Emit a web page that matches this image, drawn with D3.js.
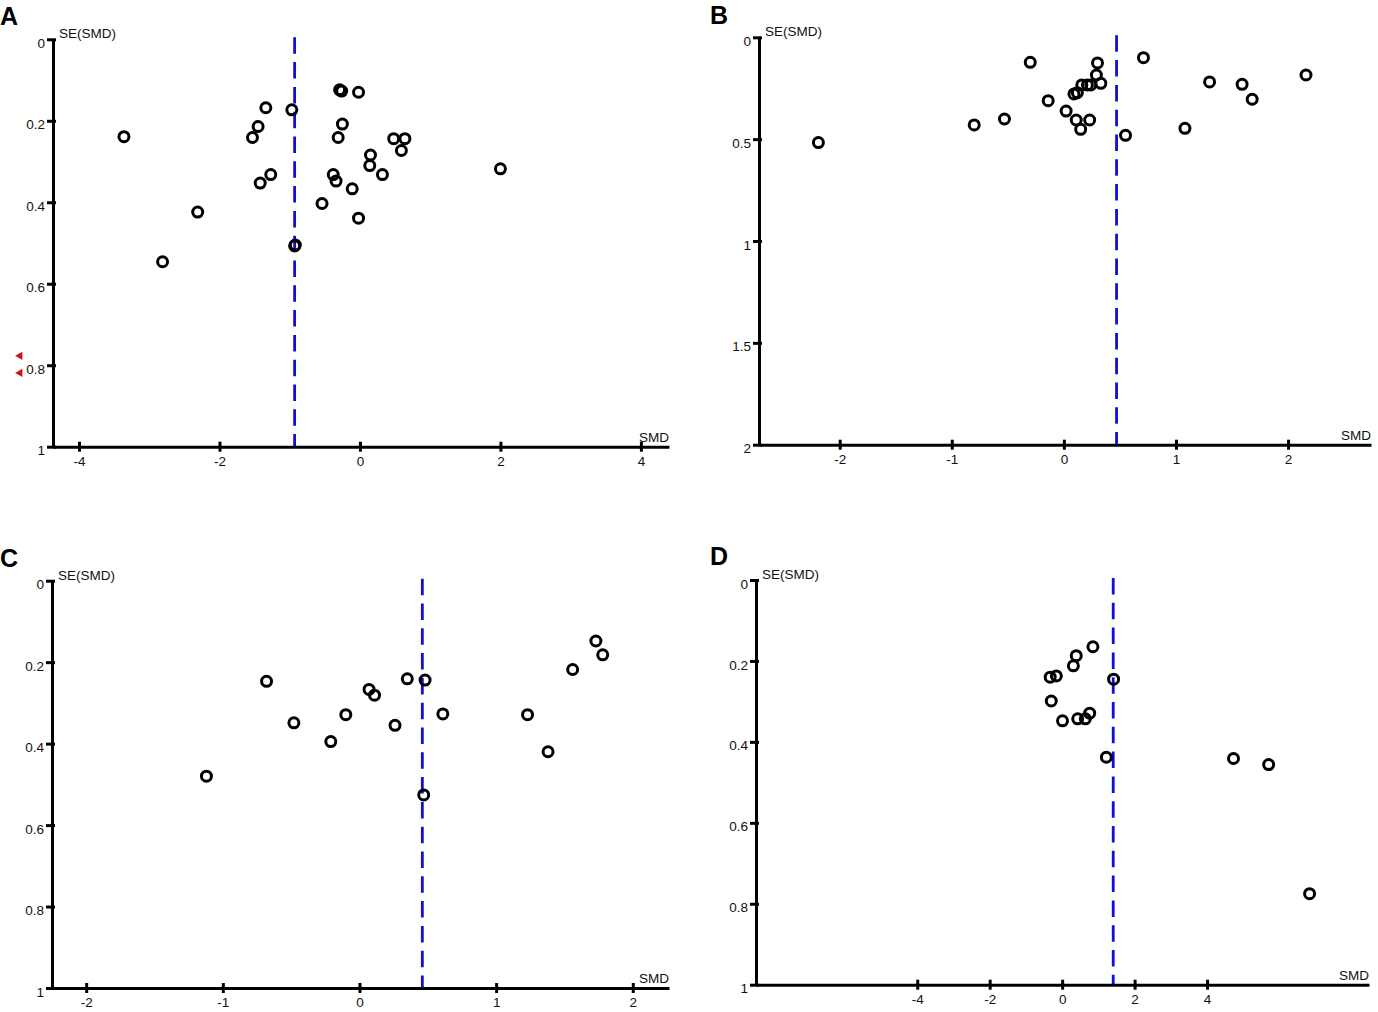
<!DOCTYPE html>
<html>
<head>
<meta charset="utf-8">
<script src="https://cdnjs.cloudflare.com/ajax/libs/d3/7.8.5/d3.min.js"></script>
<style>
  body { margin: 0; background: #fff; }
  svg { display: block; font-family: "Liberation Sans", Arial, sans-serif; }
</style>
</head>
<body>
<div id="chart"></div>
<script>
// values
const smdA = [-3.36, -2.81, -2.31, -1.53, -1.45, -1.34, -1.42, -1.27, -0.97, -0.93, -0.92,
  -0.29, -0.26, -0.02, -0.25, -0.31, -0.38, -0.34, -0.11, -0.54, -0.02, 0.15, 0.14, 0.32,
  0.48, 0.64, 0.59, 2.00];
const seA = [0.239, 0.546, 0.424, 0.241, 0.214, 0.168, 0.353, 0.332, 0.173, 0.507, 0.505,
  0.124, 0.127, 0.130, 0.208, 0.241, 0.332, 0.348, 0.367, 0.403, 0.439, 0.284, 0.310, 0.332,
  0.244, 0.244, 0.273, 0.318];
const pooledA = -0.93;
const offscaleA = [0.777, 0.819]; // studies beyond the left edge

const smdB = [-2.19, -0.80, -0.53, -0.30, -0.14, 0.02, 0.09, 0.12, 0.11, 0.15, 0.23, 0.16,
  0.21, 0.24, 0.30, 0.29, 0.33, 0.55, 0.71, 1.08, 1.30, 1.59, 1.68, 2.16];
const seB = [0.517, 0.430, 0.401, 0.123, 0.311, 0.362, 0.278, 0.272, 0.406, 0.452, 0.406,
  0.234, 0.234, 0.234, 0.126, 0.185, 0.226, 0.481, 0.100, 0.447, 0.219, 0.231, 0.304, 0.185];
const pooledB = 0.47;

const smdC = [-1.12, -0.68, -0.48, -0.21, -0.10, 0.07, 0.11, 0.26, 0.35, 0.48, 0.47, 0.61,
  1.23, 1.38, 1.56, 1.73, 1.78];
const seC = [0.480, 0.247, 0.349, 0.395, 0.329, 0.267, 0.281, 0.355, 0.241, 0.244, 0.526,
  0.327, 0.329, 0.420, 0.218, 0.148, 0.182];
const pooledC = 0.46;

const smdD = [0.85, 0.39, 0.31, -0.33, -0.16, 1.42, -0.30, 0.01, 0.43, 0.64, 0.76, 1.22,
  4.73, 5.70, 6.83];
const seD = [0.165, 0.187, 0.212, 0.240, 0.237, 0.245, 0.299, 0.348, 0.343, 0.343, 0.329,
  0.438, 0.441, 0.456, 0.775];
const pooledD = 1.41;

const xTicksA = [-4, -2, 0, 2, 4];
const xTicksB = [-2, -1, 0, 1, 2];
const xTicksC = [-2, -1, 0, 1, 2];
const xTicksD = [-4, -2, 0, 2, 4];
const yTicks1 = [0, 0.2, 0.4, 0.6, 0.8, 1];
const yTicks2 = [0, 0.5, 1, 1.5, 2];

const svg = d3.select("#chart")
  .append("svg")
    .attr("width", 1378)
    .attr("height", 1012);

svg.append("rect").attr("width", 1378).attr("height", 1012).attr("fill", "#fff");

function drawFunnel(p) {
  const x = d3.scaleLinear().domain(p.xDomain).range([p.left, p.right]);
  const y = d3.scaleLinear().domain(p.yDomain).range([p.top, p.bottom]);

  // panel letter
  svg.append("text")
    .attr("x", p.letterX)
    .attr("y", p.letterY)
    .style("font-size", "25px")
    .style("font-weight", "bold")
    .text(p.letter);

  // pooled estimate
  svg.append("line")
    .attr("x1", x(p.pooled))
    .attr("x2", x(p.pooled))
    .attr("y1", p.top - 2)
    .attr("y2", p.bottom)
    .attr("stroke", "#1010d4")
    .attr("stroke-width", 2.8)
    .attr("stroke-dasharray", "16.5,8.3");

  // y axis
  const yAxis = svg.append("g")
    .attr("transform", `translate(${p.left},0)`)
    .call(d3.axisLeft(y).tickValues(p.yTicks).tickFormat(d => String(d))
      .tickSize(6).tickSizeOuter(0).tickPadding(2));
  yAxis.select(".domain").attr("stroke", "#000").attr("stroke-width", 3);
  yAxis.selectAll(".tick line").attr("x1", 3).attr("x2", -6)
    .attr("stroke", "#000").attr("stroke-width", 3);
  yAxis.selectAll(".tick text").attr("dy", "0.6em")
    .style("font-size", "13.5px").attr("fill", "#111");

  // x axis
  const xAxis = svg.append("g")
    .attr("transform", `translate(0,${p.bottom})`)
    .call(d3.axisBottom(x).tickValues(p.xTicks).tickFormat(d => String(d))
      .tickSize(5).tickSizeOuter(0).tickPadding(4.5));
  xAxis.select(".domain").attr("stroke", "#000").attr("stroke-width", 3);
  xAxis.selectAll(".tick line").attr("y1", -5)
    .attr("stroke", "#000").attr("stroke-width", 3);
  xAxis.selectAll(".tick text")
    .style("font-size", "13.5px").attr("fill", "#111");

  // axis titles
  svg.append("text")
    .attr("x", p.left + 6)
    .attr("y", p.top - 1)
    .style("font-size", "13.5px")
    .attr("fill", "#111")
    .text("SE(SMD)");

  svg.append("text")
    .attr("x", p.right)
    .attr("y", p.bottom - 5)
    .attr("text-anchor", "end")
    .style("font-size", "13.5px")
    .attr("fill", "#111")
    .text("SMD");

  // studies
  svg.append("g")
    .selectAll("circle")
    .data(d3.zip(p.smd, p.se))
    .join("circle")
      .attr("cx", d => x(d[0]))
      .attr("cy", d => y(d[1]))
      .attr("r", 5)
      .attr("fill", "none")
      .attr("stroke", "#000")
      .attr("stroke-width", 3);

  // off-scale markers
  if (p.offscale) {
    svg.append("g")
      .selectAll("path")
      .data(p.offscale)
      .join("path")
        .attr("d", d3.symbol(d3.symbolTriangle, 30))
        .attr("transform", d => `translate(${p.left - 33},${y(d)}) rotate(-90)`)
        .attr("fill", "#d01010");
  }
}

drawFunnel({ letter: "A", letterX: 0, letterY: 25,
  left: 53, right: 669, top: 39.3, bottom: 446.7,
  xDomain: [-4.37, 4.4], yDomain: [0, 1], xTicks: xTicksA, yTicks: yTicks1,
  smd: smdA, se: seA, pooled: pooledA, offscale: offscaleA });

drawFunnel({ letter: "B", letterX: 710, letterY: 24,
  left: 759, right: 1371, top: 37.3, bottom: 444.7,
  xDomain: [-2.72, 2.74], yDomain: [0, 2], xTicks: xTicksB, yTicks: yTicks2,
  smd: smdB, se: seB, pooled: pooledB });

drawFunnel({ letter: "C", letterX: 0, letterY: 567,
  left: 52, right: 669, top: 580.7, bottom: 988,
  xDomain: [-2.25, 2.265], yDomain: [0, 1], xTicks: xTicksC, yTicks: yTicks1,
  smd: smdC, se: seC, pooled: pooledC });

drawFunnel({ letter: "D", letterX: 710, letterY: 565,
  left: 756, right: 1369, top: 580, bottom: 984.7,
  xDomain: [-8.45, 8.47], yDomain: [0, 1], xTicks: xTicksD, yTicks: yTicks1,
  smd: smdD, se: seD, pooled: pooledD });
</script>
</body>
</html>
